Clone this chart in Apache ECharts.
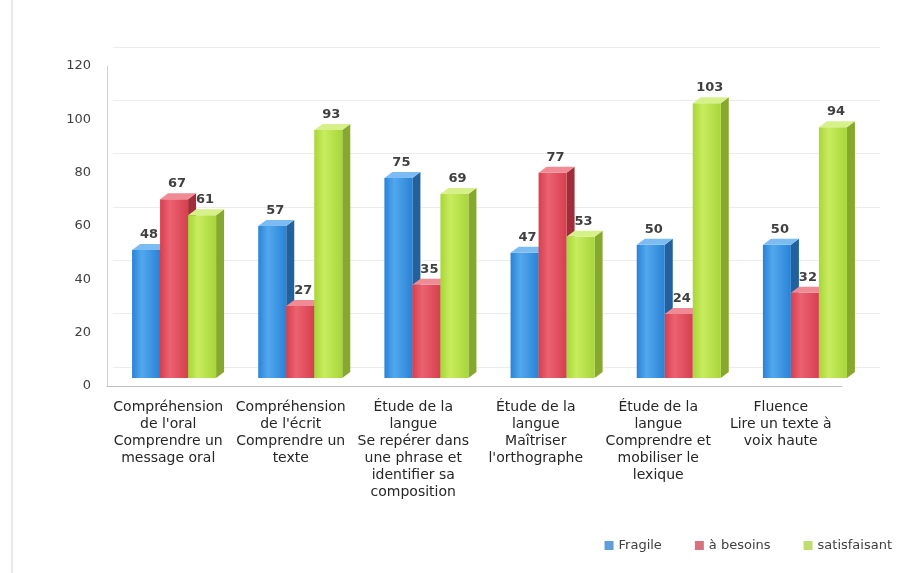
<!DOCTYPE html>
<html>
<head>
<meta charset="utf-8">
<script src="https://cdn.jsdelivr.net/npm/echarts@6/dist/echarts.min.js"></script>
<style>
html, body { margin: 0; padding: 0; background: #fff; }
#chart { width: 907px; height: 573px; }
</style>
</head>
<body>
<div id="chart"></div>
<script>
// data
var categories = [
   "Compréhension\nde l'oral\nComprendre un\nmessage oral",
   "Compréhension\nde l'écrit\nComprendre un\ntexte",
   "Étude de la\nlangue\nSe repérer dans\nune phrase et\nidentifier sa\ncomposition",
   "Étude de la\nlangue\nMaîtriser\nl'orthographe",
   "Étude de la\nlangue\nComprendre et\nmobiliser le\nlexique",
   "Fluence\nLire un texte à\nvoix haute"
];
var seriesNames = ['Fragile', 'à besoins', 'satisfaisant'];
var fragile = [48, 57, 75, 47, 50, 50];
var besoins = [67, 27, 35, 77, 24, 32];
var satisfaisant = [61, 93, 69, 53, 103, 94];
var yMin = 0, yMax = 120, yStep = 20;

var palettes = [
   { a: '#52a8ee', b: '#2a82d6', side: '#22609e', top: '#7cbcf2', legend: '#5e9fd8' },
   { a: '#ec6270', b: '#d63f4e', side: '#a12d39', top: '#f08a94', legend: '#d8727f' },
   { a: '#c8ec5e', b: '#a8d63a', side: '#86a82c', top: '#d6f08a', legend: '#bfdc6e' }
];
var values = [fragile, besoins, satisfaisant];
var font = 'DejaVu Sans';

function make3dBar(k) {
   var pal = palettes[k];
   return function (params, api) {
      var ci = api.value(0), v = api.value(1);
      var p0 = api.coord([ci, 0]);
      var p1 = api.coord([ci, v]);
      var w = api.size([1, 0])[0] * 0.222;
      var x = p0[0] - 1.5 * w + k * w;
      var yb = p0[1], yt = p1[1];
      var dx = 8, dy = -6;
      return {
         type: 'group',
         children: [
            {
               type: 'polygon',
               shape: { points: [[x + w, yb], [x + w + dx, yb + dy], [x + w + dx, yt + dy], [x + w, yt]] },
               style: { fill: pal.side }
            },
            {
               type: 'rect',
               shape: { x: x, y: yt, width: w, height: yb - yt },
               style: {
                  fill: new echarts.graphic.LinearGradient(0, 0, 1, 0, [
                     { offset: 0, color: pal.b },
                     { offset: 0.35, color: pal.a },
                     { offset: 1, color: pal.b }
                  ])
               }
            },
            {
               type: 'polygon',
               shape: { points: [[x, yt], [x + w, yt], [x + w + dx, yt + dy], [x + dx, yt + dy]] },
               style: { fill: pal.top }
            },
            {
               type: 'text',
               x: x + w / 2 + 3,
               y: yt + dy - 3,
               style: {
                  text: String(v),
                  align: 'center',
                  verticalAlign: 'bottom',
                  font: 'bold 13px "DejaVu Sans"',
                  fill: '#404040'
               }
            }
         ]
      };
   };
}

var chart = echarts.init(document.getElementById('chart'), null, { renderer: 'canvas' });

var option = {
   backgroundColor: '#fff',
   animation: false,
   legend: {
      data: seriesNames,
      right: 10,
      bottom: 16,
      icon: 'rect',
      itemWidth: 9,
      itemHeight: 9,
      itemGap: 33,
      textStyle: { fontFamily: font, fontSize: 13, color: '#404040' }
   },
   grid: [
      { left: 107, right: 65, top: 66, bottom: 187 },
      { left: 111, right: 39, top: 58, bottom: 195 },
      { left: 113, right: 27, top: 47, bottom: 206 }
   ],
   xAxis: [
      {
         gridIndex: 0, type: 'category', data: categories,
         axisTick: { show: false },
         axisLine: { lineStyle: { color: '#bdbdbd' } },
         axisLabel: {
            interval: 0, margin: 13, fontFamily: font, fontSize: 14,
            lineHeight: 17, color: '#262626'
         }
      },
      { gridIndex: 1, type: 'category', data: categories, show: false },
      { gridIndex: 2, type: 'category', data: categories, show: false }
   ],
   yAxis: [
      {
         gridIndex: 0, type: 'value', min: yMin, max: yMax, interval: yStep,
         axisLine: { show: true, lineStyle: { color: '#d0d0d0' } },
         axisTick: { show: false },
         splitLine: { show: false },
         axisLabel: { margin: 16, fontFamily: font, fontSize: 13, color: '#404040' }
      },
      {
         gridIndex: 1, type: 'value', min: yMin, max: yMax, interval: yStep,
         axisLine: { show: false }, axisTick: { show: false },
         axisLabel: { show: false }, splitLine: { show: false }
      },
      {
         gridIndex: 2, type: 'value', min: yMin, max: yMax, interval: yStep,
         axisLine: { show: false }, axisTick: { show: false },
         axisLabel: { show: false },
         splitLine: { show: true, lineStyle: { color: '#ececec', width: 1 } }
      }
   ],
   series: seriesNames.map(function (name, k) {
      return {
         name: name,
         type: 'custom',
         xAxisIndex: 1,
         yAxisIndex: 1,
         itemStyle: { color: palettes[k].legend },
         renderItem: make3dBar(k),
         encode: { x: 0, y: 1 },
         data: values[k].map(function (v, i) { return [i, v]; })
      };
   }),
   graphic: [
      {
         type: 'line',
         shape: { x1: 12, y1: 0, x2: 12, y2: 573 },
         style: { stroke: '#d4d4d4', lineWidth: 1 }
      }
   ]
};

chart.setOption(option);
</script>
</body>
</html>
